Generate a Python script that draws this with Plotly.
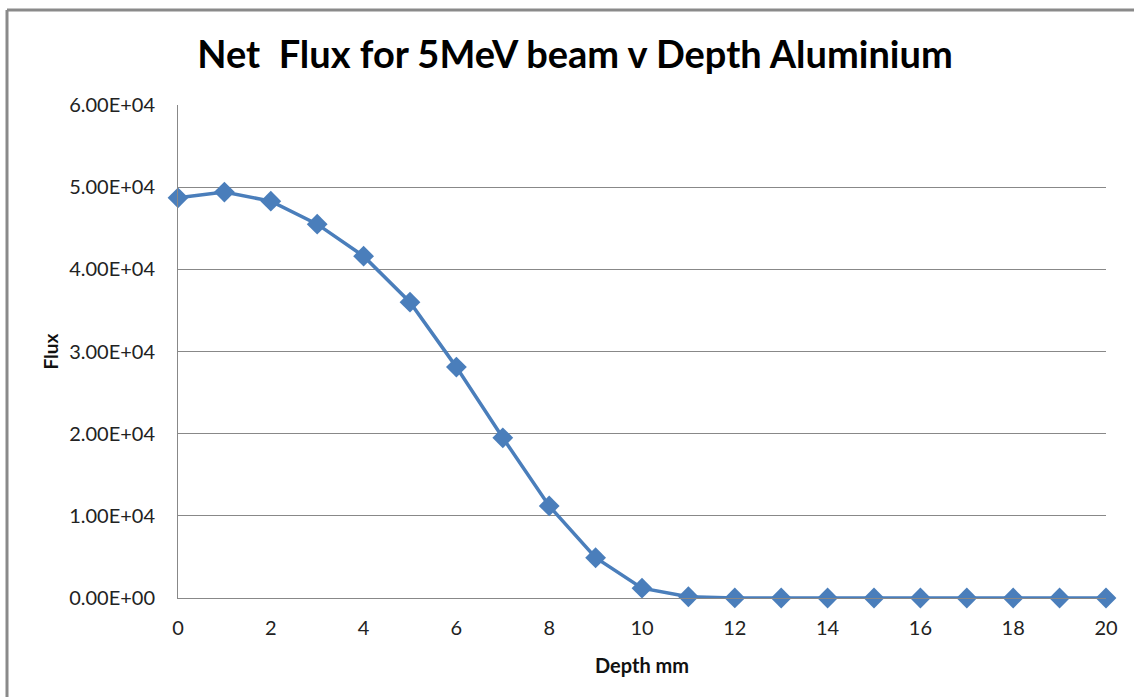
import plotly.graph_objects as go

depth_mm = list(range(0, 21))
flux = [4.87e4, 4.94e4, 4.83e4, 4.55e4, 4.16e4, 3.60e4, 2.81e4, 1.95e4, 1.12e4, 4.9e3,
        1.2e3, 1.5e2, 5, 1, 0, 0, 0, 0, 0, 0, 0]
x_ticks = list(range(0, 21, 2))
y_ticks = [0, 1e4, 2e4, 3e4, 4e4, 5e4, 6e4]
y_tick_text = ["0.00E+00", "1.00E+04", "2.00E+04", "3.00E+04", "4.00E+04", "5.00E+04", "6.00E+04"]

W, H = 1134, 697
ml, mr, mt, mb = 178, 28, 105, 99
pw, ph = W - ml - mr, H - mt - mb

def px_x(p):
    return (p - ml) / pw

def px_y(p):
    return (H - mb - p) / ph

FONT = "Lato"
fig = go.Figure()
fig.add_trace(go.Scatter(
    x=depth_mm, y=flux, mode="lines+markers",
    line=dict(color="#4a7ebb", width=3.5),
    marker=dict(symbol="diamond", size=16, color="#4a7ebb"),
    showlegend=False, cliponaxis=False,
))

fig.update_layout(
    width=W, height=H,
    margin=dict(l=ml, r=mr, t=mt, b=mb, autoexpand=False),
    paper_bgcolor="white", plot_bgcolor="white",
    title=dict(text="<b>Net  Flux for 5MeV beam v Depth Aluminium</b>",
               x=575 / W, xanchor="center", y=1 - 55 / H, yanchor="middle",
               font=dict(family=FONT, size=38, color="black")),
    font=dict(family=FONT, color="#222", size=20),
    xaxis=dict(range=[0, 20], tickvals=x_ticks, showgrid=False, zeroline=False,
               showline=True, linecolor="#888", linewidth=1,
               ticks="", tickfont=dict(family=FONT, size=20, color="#222"), ticklabelstandoff=12,
               title=dict(text="<b>Depth mm</b>", font=dict(family=FONT, size=20, color="#111"), standoff=20)),
    yaxis=dict(range=[0, 6e4], tickvals=y_ticks, ticktext=y_tick_text, showgrid=True,
               gridcolor="#888", gridwidth=1, zeroline=False,
               showline=True, linecolor="#888", linewidth=1,
               ticks="", tickfont=dict(family=FONT, size=20, color="#222"), ticklabelstandoff=18,
               title=dict(text="<b>Flux</b>", font=dict(family=FONT, size=19, color="#111"), standoff=5)),
    shapes=[
        dict(type="line", xref="paper", yref="paper",
             x0=px_x(7), x1=px_x(W + 5), y0=px_y(10), y1=px_y(10),
             line=dict(color="#8a8a8a", width=3)),
        dict(type="line", xref="paper", yref="paper",
             x0=px_x(7), x1=px_x(7), y0=px_y(10), y1=px_y(H + 5),
             line=dict(color="#8a8a8a", width=3)),
    ],
)

fig.write_html("out.html")
